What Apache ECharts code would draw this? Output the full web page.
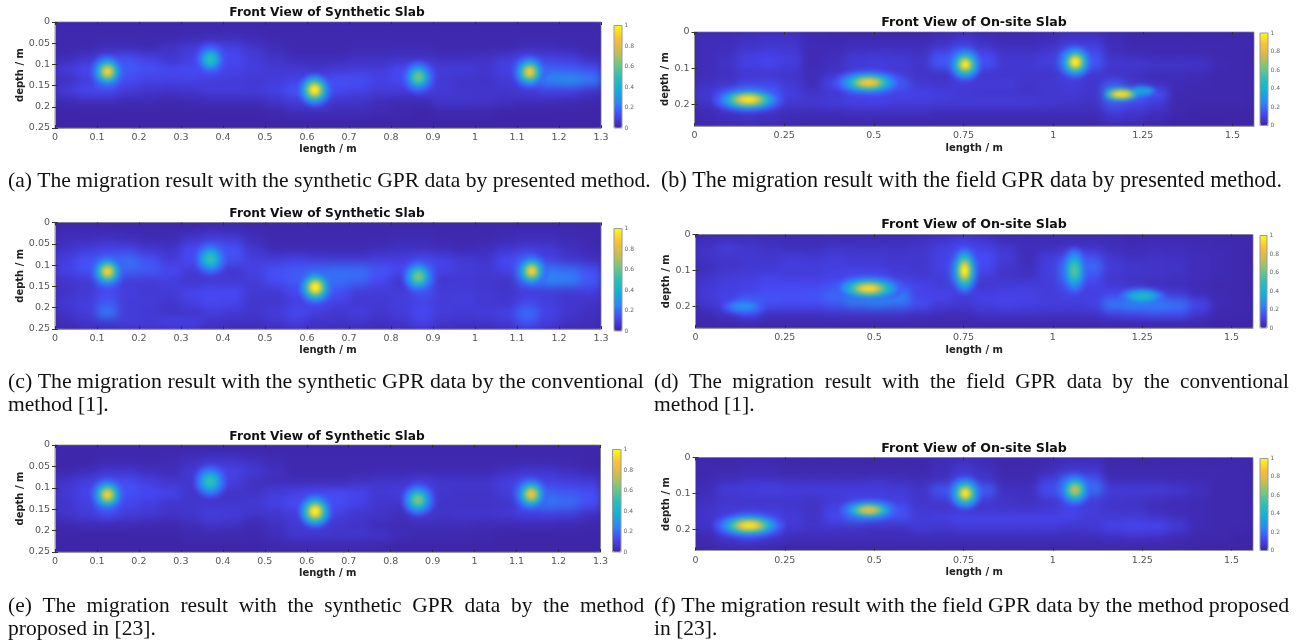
<!DOCTYPE html>
<html><head><meta charset="utf-8">
<style>html,body{margin:0;padding:0;background:#fff}#c{width:1300px;height:641px}</style>
<script src="https://cdn.jsdelivr.net/npm/echarts@6/dist/echarts.min.js"></script></head>
<body><div id="c"></div>
<script>
// ---------- tick labels and axis ranges ----------
const synthLengthTicks=[0,0.1,0.2,0.3,0.4,0.5,0.6,0.7,0.8,0.9,1,1.1,1.2,1.3];
const synthDepthTicks=[0,0.05,0.1,0.15,0.2,0.25];
const siteLengthTicks=[0,0.25,0.5,0.75,1,1.25,1.5];
const siteDepthTicks=[0,0.1,0.2];
const colorbarTicks=[0,0.2,0.4,0.6,0.8,1];
const synthLengthMax=1.3, synthDepthMax=0.25, siteLengthMax=1.56, siteDepthMax=0.26;
const parula=['#3e26a8','#4748f5','#2d87f7','#11b1d6','#2bbfb8','#72c77f','#cdbb4d','#fcbf38','#f9fb14'];
// ---------- amplitude cells (percent, top row first) ----------
const cellsA=[
[1,1,1,1,1,1,1,1,1,1,1,1,1,1,1,1,1,1,1,1,1,1,1,1,1,1],
[1,1,1,1,1,1,2,3,3,2,1,1,1,1,1,1,1,1,1,1,1,1,1,1,1,1],
[1,1,3,3,2,5,8,12,10,6,3,1,1,1,2,2,2,2,1,1,1,1,3,3,2,1],
[3,6,12,14,10,6,9,16,12,8,5,3,3,3,4,4,5,5,4,4,5,8,12,10,9,4],
[8,12,28,16,14,12,13,14,10,9,7,7,6,7,8,8,12,14,8,8,6,10,22,18,16,14],
[4,8,22,12,10,10,10,8,8,7,8,10,10,14,14,10,12,16,7,5,5,7,12,26,30,24],
[8,12,12,8,6,5,6,8,8,8,10,15,25,12,10,8,8,10,7,6,6,6,8,10,10,6],
[2,3,3,2,2,1,2,3,3,3,5,8,12,5,5,3,2,2,6,6,5,4,3,3,2,1],
[0,0,0,0,0,0,0,0,0,0,1,3,3,3,3,2,1,0,1,1,1,0,0,0,0,0],
[0,0,0,0,0,0,0,0,0,0,0,0,0,0,0,0,0,0,0,0,0,0,0,0,0,0]];
const cellsB=[
[3,3,4,5,5,2,1,1,1,1,1,3,5,3,2,2,3,5,5,2,1,1,1,1,1,1],
[3,3,5,6,6,2,2,3,3,3,3,5,10,5,3,3,4,9,9,3,1,1,1,1,1,1],
[3,4,9,10,8,2,3,6,7,6,5,14,22,12,6,6,8,22,14,4,3,2,2,2,1,1],
[3,5,10,11,9,2,4,8,9,8,6,16,28,14,7,7,9,28,16,7,7,6,6,6,2,1],
[3,4,6,6,5,3,5,7,8,7,5,4,12,5,6,6,5,10,6,4,4,3,3,2,1,1],
[4,5,10,11,7,3,12,24,28,18,7,6,8,8,8,6,7,8,6,14,5,3,2,2,1,1],
[7,14,26,18,9,5,6,10,12,10,10,9,7,6,6,5,6,7,6,30,22,14,2,1,1,1],
[5,13,22,14,7,7,9,10,10,9,9,8,8,8,8,8,7,6,5,16,12,8,1,1,1,1],
[2,4,6,5,3,3,3,4,4,4,4,3,3,3,3,3,3,3,3,8,6,4,1,0,0,0],
[2,3,4,3,2,1,1,1,1,1,1,1,1,1,1,1,1,1,1,4,3,1,0,0,0,0]];
const cellsC=[
[1,1,1,1,1,1,1,2,2,1,1,1,1,1,1,1,1,1,1,1,1,1,1,1,1,1],
[3,3,4,3,2,2,5,8,7,3,1,1,1,1,1,1,2,2,1,1,1,2,3,3,2,1],
[5,8,10,10,6,5,12,18,14,6,2,2,2,2,2,3,4,4,3,2,3,6,8,7,4,2],
[9,14,18,20,14,8,12,24,14,9,8,10,8,7,7,9,9,12,10,7,6,12,18,10,6,4],
[10,14,30,18,16,12,8,10,6,10,14,16,18,20,20,15,12,20,10,8,7,10,26,22,20,14],
[6,7,18,8,8,9,6,7,7,8,13,16,22,20,18,12,6,22,6,7,6,5,18,26,24,16],
[5,7,12,9,7,8,11,12,12,7,7,12,28,14,8,8,8,14,8,8,7,6,8,8,7,9],
[7,9,15,8,8,6,10,12,11,6,6,9,13,10,7,7,9,10,8,9,7,6,11,9,6,5],
[5,8,22,8,7,5,5,8,7,6,8,12,8,6,9,6,8,12,8,7,8,10,20,10,6,4],
[3,5,6,8,8,10,10,5,4,4,6,8,5,5,5,4,6,10,6,5,5,7,14,8,4,3]];
const cellsD=[
[3,4,4,3,3,3,3,3,3,3,4,6,8,6,3,3,3,3,3,3,2,2,2,2,1,1],
[5,8,6,5,3,3,5,5,5,5,6,9,12,10,6,3,3,5,5,3,2,3,3,2,2,1],
[5,6,7,6,8,7,9,7,7,6,6,10,16,13,8,3,9,14,14,6,4,5,4,3,2,1],
[3,5,6,7,9,9,9,9,8,7,6,10,30,12,6,4,9,24,20,8,6,5,5,3,2,1],
[5,8,9,10,8,8,10,12,12,8,7,8,32,8,5,4,9,22,14,6,5,5,4,3,2,1],
[7,9,10,12,12,12,14,22,24,14,11,8,12,6,8,9,8,14,10,7,5,3,3,2,1,1],
[8,10,12,14,14,15,20,32,35,26,10,11,8,10,10,10,8,10,9,12,16,12,8,3,2,1],
[6,10,24,14,13,13,15,20,22,20,14,8,7,9,11,10,9,8,10,24,28,26,22,12,2,1],
[2,5,12,4,4,4,5,5,5,5,4,3,3,5,5,5,5,5,5,10,12,14,14,6,1,1],
[1,1,1,1,1,1,1,1,1,1,1,1,1,1,1,1,1,1,1,1,1,1,1,1,0,0]];
const cellsE=[
[1,1,1,1,1,1,1,1,1,1,1,1,1,1,1,1,1,1,1,1,1,1,1,1,1,1],
[0,0,1,1,1,2,4,6,6,4,2,1,1,1,1,1,1,1,1,1,1,1,1,1,1,0],
[1,3,6,6,4,3,7,14,10,7,4,1,1,1,1,2,2,2,2,2,2,4,6,6,4,2],
[6,9,14,13,9,6,6,18,9,4,3,3,3,3,5,6,6,9,6,6,6,9,14,10,9,8],
[7,11,26,14,12,11,6,7,5,5,8,10,12,13,11,7,9,14,6,5,5,8,24,18,16,14],
[6,9,20,11,9,6,6,6,6,7,10,13,20,13,10,6,5,18,5,5,5,5,14,22,20,14],
[6,8,12,8,7,5,6,9,8,5,6,8,22,9,6,5,4,7,5,6,6,7,9,9,8,4],
[1,2,2,2,1,1,3,5,4,2,4,7,9,6,5,3,2,3,3,3,2,2,2,2,1,1],
[0,0,0,0,0,0,1,1,1,1,3,6,6,6,6,5,3,1,1,1,1,0,0,0,0,0],
[0,0,0,0,0,0,0,0,0,0,1,1,1,1,1,1,0,0,0,0,0,0,0,0,0,0]];
const cellsF=[
[1,1,2,2,1,1,1,1,1,1,1,3,5,3,1,1,2,4,4,1,1,1,1,1,1,1],
[1,1,2,2,1,1,1,1,1,1,1,3,6,4,1,1,3,6,6,1,1,1,1,1,1,1],
[2,4,5,5,4,4,4,4,5,4,3,4,12,6,2,2,9,22,16,3,3,3,2,2,1,1],
[3,8,9,10,9,9,9,9,9,8,6,16,30,18,4,4,14,30,22,8,8,8,7,4,1,1],
[4,5,6,6,6,5,7,9,9,8,5,8,16,8,5,4,7,12,8,6,5,4,3,2,1,1],
[5,7,7,7,6,5,10,18,24,14,7,5,6,5,5,5,6,10,8,5,5,3,2,2,1,1],
[6,9,16,12,8,5,12,20,15,14,8,10,11,11,11,11,11,11,8,8,8,6,4,2,1,1],
[5,14,28,16,7,6,6,5,4,4,8,6,8,8,8,8,8,6,7,11,12,12,8,2,1,1],
[2,7,12,7,3,3,3,3,3,3,3,3,3,3,3,3,3,3,3,4,5,4,2,1,1,0],
[1,2,3,2,1,1,1,1,1,1,1,1,1,1,1,1,1,1,1,1,1,1,1,0,0,0]];
// ---------- reflector peaks [length, depth, amplitude %], outer contour first ----------
const roundA=[[.125,.117,16],[.125,.117,28],[.125,.117,42],[.125,.117,58],[.125,.117,76],[.125,.117,92],[.37,.088,12],[.37,.088,18],[.37,.088,26],[.37,.088,36],[.37,.088,44],[.37,.088,50],[.618,.16,18],[.618,.16,32],[.618,.16,48],[.618,.16,66],[.618,.16,88],[.618,.16,100],[.865,.13,14],[.865,.13,22],[.865,.13,32],[.865,.13,44],[.865,.13,56],[.865,.13,62],[1.13,.118,16],[1.13,.118,28],[1.13,.118,42],[1.13,.118,58],[1.13,.118,76],[1.13,.118,90]];
const wideA=[];const tallA=[];
const wideB=[[.15,.187,14],[.15,.187,26],[.15,.187,44],[.15,.187,64],[.15,.187,84],[.15,.187,96],[.485,.14,14],[.485,.14,24],[.485,.14,38],[.485,.14,56],[.485,.14,76],[.485,.14,90],[1.25,.163,28],[1.25,.163,34],[1.19,.172,42],[1.19,.172,72],[1.19,.172,95]];
const roundB=[[.755,.09,18],[.755,.09,30],[.755,.09,44],[.755,.09,60],[.755,.09,82],[.755,.09,98],[1.062,.083,18],[1.062,.083,30],[1.062,.083,46],[1.062,.083,64],[1.062,.083,88],[1.062,.083,100]];
const tallB=[];
const roundC=[[.125,.115,16],[.125,.115,28],[.125,.115,42],[.125,.115,58],[.125,.115,76],[.125,.115,92],[.37,.085,15],[.37,.085,22],[.37,.085,30],[.37,.085,38],[.37,.085,46],[.37,.085,52],[.62,.152,20],[.62,.152,34],[.62,.152,50],[.62,.152,70],[.62,.152,90],[.62,.152,100],[.865,.127,15],[.865,.127,24],[.865,.127,34],[.865,.127,46],[.865,.127,58],[.865,.127,64],[1.135,.114,16],[1.135,.114,28],[1.135,.114,42],[1.135,.114,58],[1.135,.114,76],[1.135,.114,92]];
const wideC=[];const tallC=[];
const wideD=[[.485,.15,16],[.485,.15,28],[.485,.15,42],[.485,.15,60],[.485,.15,80],[.485,.15,94],[1.25,.172,20],[1.25,.172,30],[1.25,.172,38],[1.25,.172,44],[.135,.2,14],[.135,.2,20],[.135,.2,25],[.135,.2,28]];
const roundD=[];
const tallD=[[.753,.1,18],[.753,.1,32],[.753,.1,48],[.753,.1,66],[.753,.1,86],[.753,.1,100],[1.06,.1,16],[1.06,.1,24],[1.06,.1,34],[1.06,.1,44],[1.06,.1,52],[1.06,.1,58]];
const roundE=[[.125,.116,16],[.125,.116,28],[.125,.116,42],[.125,.116,58],[.125,.116,76],[.125,.116,92],[.37,.085,15],[.37,.085,22],[.37,.085,30],[.37,.085,38],[.37,.085,46],[.37,.085,52],[.62,.155,20],[.62,.155,34],[.62,.155,50],[.62,.155,70],[.62,.155,90],[.62,.155,100],[.865,.128,15],[.865,.128,24],[.865,.128,34],[.865,.128,46],[.865,.128,58],[.865,.128,64],[1.135,.115,16],[1.135,.115,28],[1.135,.115,42],[1.135,.115,58],[1.135,.115,76],[1.135,.115,88]];
const wideE=[];const tallE=[];
const wideF=[[.15,.19,14],[.15,.19,26],[.15,.19,44],[.15,.19,64],[.15,.19,84],[.15,.19,96],[.485,.147,18],[.485,.147,30],[.485,.147,48],[.485,.147,68],[.485,.147,84]];
const roundF=[[.755,.1,18],[.755,.1,30],[.755,.1,44],[.755,.1,60],[.755,.1,82],[.755,.1,98],[1.062,.09,16],[1.062,.09,26],[1.062,.09,38],[1.062,.09,52],[1.062,.09,68],[1.062,.09,74]];
const tallF=[];
const contourWidths=[7,11,15,20,26,32]; // innermost first, in pixels
// ---------- text ----------
const synthTitle='Front View of Synthetic Slab', siteTitle='Front View of On-site Slab';
const lengthName='length / m', depthName='depth / m';
const captionLines=[
 ['(a) The migration result with the synthetic GPR data by presented method.',8,181,643],
 ['(b) The migration result with the field GPR data by presented method.',661,181,621],
 ['(c) The migration result with the synthetic GPR data by the conventional',8,382,636],
 ['method [1].',8,405,0],
 ['(d) The migration result with the field GPR data by the conventional',654,382,635],
 ['method [1].',654,405,0],
 ['(e) The migration result with the synthetic GPR data by the method',8,606,636],
 ['proposed in [23].',8,629,0],
 ['(f) The migration result with the field GPR data by the method proposed',654,606,635],
 ['in [23].',654,629,0]];
// ---------- layout ----------
const panels=[
 {r:[55,22,601,128],cb:[614,25.5,622,128],t:[327,12],c:cellsA,ro:roundA,wi:wideA,ta:tallA,s:1},
 {r:[694.5,32,1254,126],cb:[1260,33,1268,125.5],t:[974,21],c:cellsB,ro:roundB,wi:wideB,ta:tallB,s:0},
 {r:[55,222.5,601,329],cb:[614,228.5,622,331],t:[327,213],c:cellsC,ro:roundC,wi:wideC,ta:tallC,s:1},
 {r:[695.5,234.5,1253,328],cb:[1260,235.5,1267,328],t:[974,223],c:cellsD,ro:roundD,wi:wideD,ta:tallD,s:0},
 {r:[55,445,600.5,552],cb:[612.5,449.5,621,552],t:[327,436],c:cellsE,ro:roundE,wi:wideE,ta:tallE,s:1},
 {r:[695.5,457.5,1253,550.5],cb:[1260,458.5,1268,550.5],t:[974,447],c:cellsF,ro:roundF,wi:wideF,ta:tallF,s:0}];
const FONT='"DejaVu Sans"', HEAT=1, SPOTS=2, AXES=3, TEXT=4;
const grid=[],xAxis=[],yAxis=[],series=[],visualMap=[],title=[];
const colIdx=panels[0].c[0].map((_,i)=>i), rowIdx=panels[0].c.map((_,i)=>i);
// contour width: how many points of the same peak still follow this one
const contour=(data,idx)=>{let n=0;for(let k=idx+1;k<data.length&&data[k][0]===data[idx][0]&&data[k][1]===data[idx][1];k++)n++;return contourWidths[Math.min(n,contourWidths.length-1)]};
panels.forEach(p=>{
 const [l,t,r,b]=p.r, g=grid.length;
 const lx=p.s?synthLengthTicks:siteLengthTicks, dy=p.s?synthDepthTicks:siteDepthTicks;
 const mx=p.s?synthLengthMax:siteLengthMax, my=p.s?synthDepthMax:siteDepthMax;
 grid.push({left:l,top:t,width:r-l,height:b-t,show:true,backgroundColor:'#3e26a8',borderColor:'#9a9a9a',borderWidth:1,zlevel:0});
 const x0=xAxis.length,y0=yAxis.length;
 xAxis.push({type:'category',gridIndex:g,data:colIdx,show:false,zlevel:HEAT});
 yAxis.push({type:'category',gridIndex:g,data:rowIdx,inverse:true,show:false,zlevel:HEAT});
 const tickStyle={show:true,inside:true,length:3,lineStyle:{color:'#333',width:1}};
 xAxis.push({type:'value',gridIndex:g,min:0,max:mx,position:'bottom',zlevel:AXES,splitLine:{show:false},
  name:lengthName,nameLocation:'middle',nameGap:p.s?16:17,nameTextStyle:{fontFamily:FONT,fontWeight:'bold',fontSize:10,color:'#222'},
  axisLine:{show:true,onZero:false,lineStyle:{color:'#9a9a9a'}},axisTick:{...tickStyle,customValues:lx},
  axisLabel:{customValues:lx,fontFamily:FONT,fontSize:9.5,color:'#555',margin:5,formatter:v=>String(v),hideOverlap:false}});
 xAxis.push({type:'value',gridIndex:g,min:0,max:mx,position:'top',zlevel:AXES,splitLine:{show:false},
  axisLine:{show:false},axisTick:{...tickStyle,customValues:lx},axisLabel:{show:false}});
 yAxis.push({type:'value',gridIndex:g,min:0,max:my,inverse:true,position:'left',zlevel:AXES,splitLine:{show:false},
  name:depthName,nameLocation:'middle',nameGap:p.s?23:20,nameTextStyle:{fontFamily:FONT,fontWeight:'bold',fontSize:10,color:'#222'},
  axisLine:{show:true,onZero:false,lineStyle:{color:'#9a9a9a'}},axisTick:{...tickStyle,customValues:dy},
  axisLabel:{customValues:dy,fontFamily:FONT,fontSize:9.5,color:'#555',margin:5,formatter:v=>String(v)}});
 yAxis.push({type:'value',gridIndex:g,min:0,max:my,inverse:true,position:'right',zlevel:AXES,splitLine:{show:false},
  axisLine:{show:false},axisTick:{...tickStyle,customValues:dy},axisLabel:{show:false}});
 const si=series.length;
 const heat=[];p.c.forEach((row,j)=>row.forEach((v,i)=>heat.push([i,j,v])));
 series.push({type:'heatmap',xAxisIndex:x0,yAxisIndex:y0,data:heat,zlevel:HEAT,silent:true,progressive:0,itemStyle:{borderWidth:0}});
 const spot=(data,fn)=>series.push({type:'scatter',xAxisIndex:x0+1,yAxisIndex:y0+1,data,zlevel:SPOTS,silent:true,symbol:'circle',
   symbolSize:(val,par)=>fn(contour(data,par.dataIndex)),itemStyle:{opacity:1},progressive:0});
 spot(p.wi,s=>[2.2*s,.8*s]);
 spot(p.ta,s=>[.8*s,1.45*s]);
 spot(p.ro,s=>s);
 visualMap.push({type:'continuous',min:0,max:100,dimension:2,seriesIndex:[si,si+1,si+2,si+3],calculable:false,realtime:false,
  left:p.cb[0],top:p.cb[1],itemWidth:p.cb[2]-p.cb[0],itemHeight:p.cb[3]-p.cb[1],padding:0,text:null,
  inRange:{color:parula},zlevel:AXES,orient:'vertical'});
 // colour bar frame and its tick labels
 const cg=grid.length;
 grid.push({left:p.cb[0],top:p.cb[1],width:p.cb[2]-p.cb[0],height:p.cb[3]-p.cb[1],show:true,backgroundColor:'transparent',borderColor:'#9a9a9a',borderWidth:1,zlevel:AXES,z:10});
 xAxis.push({type:'value',gridIndex:cg,min:0,max:1,show:false,zlevel:AXES});
 yAxis.push({type:'value',gridIndex:cg,min:0,max:1,position:'right',zlevel:AXES,splitLine:{show:false},axisLine:{show:false},axisTick:{show:false},
  axisLabel:{customValues:colorbarTicks,fontFamily:FONT,fontSize:6,color:'#666',margin:2.5,formatter:v=>String(v)}});
 title.push({text:p.s?synthTitle:siteTitle,left:p.t[0],top:p.t[1]-5,textAlign:'center',padding:0,zlevel:AXES,
  textStyle:{fontFamily:FONT,fontWeight:'bold',fontSize:p.s?12.2:12.6,color:'#111'}});
});
// captions: every word gap of a stretched line gets the same extra space, then the size fits the column
const mctx=document.createElement('canvas').getContext('2d');
const measure=(s,f)=>{mctx.font=f+'px "Liberation Serif"';return mctx.measureText(s).width};
const baseSize=21*643/measure(captionLines[0][0],21);
captionLines.forEach(([text,x,y,w])=>{
 let s=text,size=baseSize;
 if(w){
  const gaps=text.split(' ').length-1;
  if((w-measure(text,size))/gaps>measure(' ',size)*.5) s=text.split(' ').join('  ');
  size=size*w/measure(s,size);
 }
 title.push({text:s,left:x,top:y-size*.55,padding:0,zlevel:TEXT,textStyle:{fontFamily:'"Liberation Serif"',fontWeight:'normal',fontSize:size,color:'#111',lineHeight:size*1.15}});
});
const chart=echarts.init(document.getElementById('c'),null,{renderer:'canvas'});
chart.setOption({animation:false,backgroundColor:'#fff',tooltip:{show:false},title,grid,xAxis,yAxis,series,visualMap});
// soft look of the upscaled images: blur the image layers only, clipped to the plot boxes
const layer=z=>document.querySelector('#c canvas[data-zr-dom-id="zr_'+z+'"]');
const box='path("'+panels.map(p=>{const [l,t,r,b]=p.r;return `M${l} ${t}H${r}V${b}H${l}Z`}).join(' ')+'")';
[[HEAT,'blur(5px)'],[SPOTS,'blur(2px)']].forEach(([z,f])=>{const c=layer(z);if(c){c.style.filter=f;c.style.clipPath=box}});
const axesCanvas=layer(AXES);
if(axesCanvas) axesCanvas.style.filter='blur(0.35px)';
</script></body></html>
